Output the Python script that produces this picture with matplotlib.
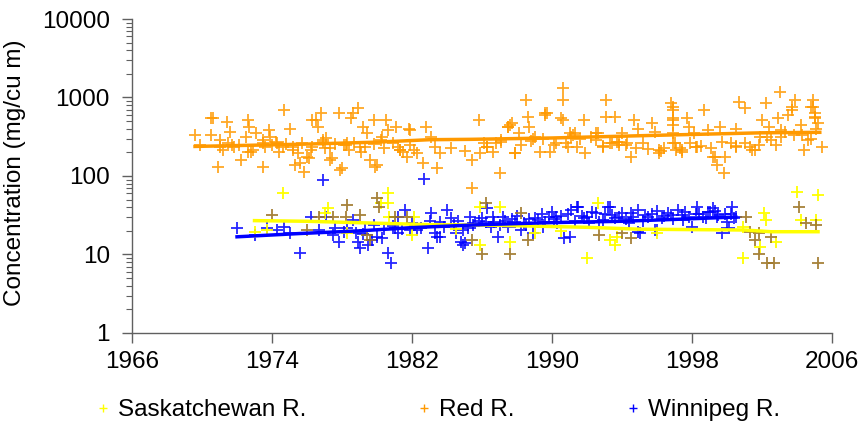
import matplotlib.pyplot as plt
import matplotlib.ticker as mticker
from matplotlib.lines import Line2D

plt.rcParams['font.family'] = ['Liberation Sans', 'DejaVu Sans']

# Red R. (orange) - year, concentration
red_x = [1969.6, 1970.5, 1971.4, 1970.9, 1970.5, 1971.0, 1971.8, 1972.2, 1972.6, 1972.7,
         1972.6, 1973.1, 1973.5, 1973.5, 1973.9, 1974.3, 1974.7, 1975.0, 1975.2, 1975.5,
         1975.6, 1975.8, 1976.0, 1976.2, 1976.5, 1976.6, 1976.8, 1976.9, 1977.0, 1977.3,
         1977.8, 1977.9, 1978.3, 1978.5, 1978.6, 1978.9, 1979.0, 1979.2, 1979.4, 1979.6,
         1979.8, 1979.9, 1980.2, 1980.5, 1980.6, 1981.1, 1981.3, 1981.8, 1982.1, 1982.3,
         1982.6, 1982.8, 1970.6, 1971.2, 1971.6, 1971.7, 1972.5, 1972.8, 1973.6, 1973.8,
         1974.2, 1974.6, 1975.3, 1976.1, 1976.3, 1977.1, 1977.4, 1978.0, 1978.1, 1978.4,
         1979.1, 1980.0, 1980.3, 1981.2, 1981.5, 1981.7, 1981.9,
         1969.9, 1971.0, 1971.5, 1972.1, 1972.9, 1973.5, 1974.0, 1974.4, 1974.8, 1975.2,
         1975.7, 1976.3, 1976.9, 1977.3, 1977.6, 1978.2, 1978.7, 1979.3, 1979.8, 1980.4,
         1980.9, 1981.3, 1981.9,
         1983.1, 1983.3, 1983.6, 1983.4, 1985.8, 1985.4, 1985.9, 1986.1, 1986.3, 1986.6,
         1987.0, 1987.1, 1987.5, 1987.6, 1987.9, 1988.1, 1988.2, 1988.5, 1988.6, 1988.7,
         1989.0, 1989.3, 1989.6, 1989.7, 1989.9, 1990.2, 1990.5, 1990.6, 1990.6, 1990.9,
         1991.0, 1991.2, 1991.4, 1991.8, 1991.9, 1992.2, 1992.5, 1992.6, 1993.1, 1993.1,
         1993.3, 1993.6, 1993.7, 1994.0, 1994.3, 1994.5, 1994.7, 1994.9, 1995.2, 1995.7,
         1995.9, 1996.1, 1996.4, 1996.8, 1996.9, 1996.9, 1996.9, 1996.9, 1997.1, 1997.4,
         1997.7, 1997.8, 1998.1, 1998.3, 1998.7, 1998.9, 1999.2, 1999.4, 1999.6, 1999.8,
         1999.9, 2000.2, 2000.5, 2000.7, 2001.0, 2001.3, 2001.6, 2001.9, 2002.0, 2002.2,
         2002.4, 2002.8, 2002.9, 2003.0, 2003.3, 2003.5, 2003.7, 2003.9, 2004.2, 2004.4,
         2004.8, 2004.9, 2005.0, 2005.0, 2005.1, 2005.4, 2004.6, 1985.4,
         1984.2, 1985.0, 1986.8, 1988.8, 1989.5, 1990.8, 1991.6, 1992.9, 1993.8, 1994.8,
         1995.5, 1996.2, 1997.3, 1997.9, 1998.5, 1999.1, 1999.7, 2000.5, 2001.0, 2001.8,
         2002.5, 2003.1, 2003.8, 2004.3, 2004.8,
         1987.5, 1987.7, 1989.6, 1990.6, 1991.3, 1991.1, 1992.5, 1993.4, 1993.8, 1994.2,
         1986.3, 1987.1, 1987.9, 1988.9, 1990.1, 1992.9,
         1996.9, 1996.9, 1996.9, 1997.0, 1996.1, 1997.4, 1998.2, 1999.3, 2000.5, 2001.4,
         2002.3, 2003.1, 2003.7, 2004.9, 2005.0, 2005.2]
red_y = [333, 545, 490, 130, 330, 290, 235, 160, 520, 420,
         200, 350, 130, 290, 310, 260, 690, 400, 215, 195,
         145, 112, 175, 215, 520, 420, 630, 290, 225, 160,
         630, 120, 260, 545, 630, 730, 235, 420, 350, 160,
         520, 130, 290, 520, 385, 420, 215, 400, 215, 195,
         145, 420, 545, 215, 360, 250, 315, 200, 235, 385,
         270, 235, 140, 170, 520, 305, 170, 125, 250, 215,
         200, 140, 315, 235, 200, 175, 385,
         250, 235, 265, 250, 215, 265, 250, 200, 255, 235,
         265, 235, 275, 225, 255, 250, 265, 235, 255, 225,
         265, 215, 250,
         310, 235, 195, 125, 520, 160, 195, 260, 235, 200,
         108, 290, 420, 445, 195, 350, 250, 930, 560, 420,
         310, 200, 600, 630, 200, 260, 545, 930, 1310, 235,
         350, 330, 235, 520, 195, 310, 290, 350, 930, 560,
         260, 560, 270, 350, 260, 175, 520, 400, 260, 470,
         360, 195, 225, 850, 690, 545, 445, 260, 215, 200,
         545, 420, 350, 235, 690, 385, 175, 140, 420, 108,
         175, 260, 400, 870, 730, 235, 215, 310, 520, 850,
         420, 250, 545, 1170, 360, 600, 760, 930, 445, 215,
         760, 930, 630, 545, 400, 235, 290, 70,
         230, 210, 260, 280, 300, 260, 300, 240, 250, 230,
         220, 210, 230, 260, 240, 230, 270, 240, 260, 250,
         290, 310, 330, 330, 300,
         420, 470, 630, 520, 350, 310, 350, 260, 270, 250,
         235, 270, 195, 300, 250, 235,
         760, 520, 350, 260, 215, 215, 235, 175, 235, 215,
         310, 385, 690, 760, 560, 470]

# Winnipeg R. (blue)
win_x = [1972.0, 1973.0, 1973.7, 1974.3, 1974.7, 1975.0, 1975.6, 1976.2, 1976.7, 1977.1,
         1977.5, 1977.8, 1978.1, 1978.3, 1978.6, 1978.9, 1979.0, 1979.3, 1979.5, 1979.7,
         1980.0, 1980.3, 1980.6, 1980.8, 1981.0, 1981.2, 1981.6, 1981.9, 1982.7, 1982.9,
         1976.9, 1982.3, 1983.1, 1983.3, 1983.6, 1983.8, 1984.0, 1984.2, 1984.5, 1984.9,
         1985.0, 1985.3, 1985.6, 1986.0, 1986.3, 1986.5, 1986.7, 1986.9, 1987.2, 1987.5,
         1987.9, 1988.2, 1988.5, 1988.9, 1989.2, 1989.5, 1989.8, 1990.0, 1990.3, 1990.7,
         1991.1, 1991.5, 1991.8, 1992.1, 1992.5, 1992.9, 1993.2, 1993.6, 1994.0, 1994.4,
         1994.6, 1994.9, 1995.0, 1995.5, 1995.9, 1996.3, 1996.6, 1997.2, 1997.5, 1998.0,
         1998.3, 1998.6, 1998.9, 1999.2, 1999.4, 1999.7, 2000.0, 2000.3, 2000.5, 2000.1,
         1983.4, 1984.9, 1984.8, 1991.0, 1991.4, 1993.3, 1994.9, 1996.0,
         1980.9, 1981.4, 1982.0, 1983.0, 1984.4, 1985.2, 1985.8, 1986.2, 1987.0, 1987.7,
         1988.4, 1989.0, 1989.6, 1990.1, 1990.5, 1991.3, 1992.0, 1992.7, 1993.4, 1994.2,
         1995.2, 1995.7, 1996.4, 1996.9, 1997.4, 1997.8, 1998.4, 1998.8, 1999.0, 1999.5,
         1999.9, 2000.4, 1977.6, 1978.8, 1979.8, 1980.4,
         1984.6, 1985.5, 1986.6, 1987.3, 1988.0, 1988.7, 1989.4, 1990.2, 1990.9, 1991.7,
         1992.3, 1993.0, 1993.8, 1994.5, 1995.3, 1996.0, 1996.8, 1997.6, 1998.2, 1999.3,
         2000.2, 1982.5, 1983.6, 1981.2, 1979.2]
win_y = [21.7, 17.7, 21.7, 20.5, 22.4, 18.8, 10.4, 30, 20.5, 30,
         17.7, 14.5, 19.4, 21.7, 27.5, 14.5, 12.1, 20.5, 13.2, 15.3,
         16.7, 16.2, 10.4, 7.8, 21.7, 30, 36.8, 20.5, 92, 12.1,
         90, 20.5, 33.6, 18.8, 16.7, 22.4, 36.8, 29, 18.8, 20.5,
         14, 30, 25, 29, 39, 22.4, 26, 16.7, 30, 22.4,
         26, 20.5, 23.7, 18.8, 27.5, 22.4, 30, 34.7, 25, 16.2,
         36.8, 40, 29, 25, 33.6, 27.5, 40, 29, 33.6, 25,
         30, 36.8, 18.8, 30, 20.5, 29, 33.6, 36.8, 27.5, 22.4,
         40, 30, 34.7, 39, 30, 18.8, 26, 40, 30, 21.7,
         16.7, 13.2, 14.5, 16.7, 40, 40, 19.4, 20.5,
         23, 21, 25, 27, 24, 22, 27, 26, 24, 28,
         25, 29, 26, 28, 31, 27, 30, 26, 32, 28,
         27, 33, 31, 28, 32, 30, 33, 29, 35, 32,
         33, 29, 22, 19, 24, 21,
         27, 24, 30, 27, 31, 28, 33, 30, 33, 31,
         35, 33, 30, 34, 32, 36, 32, 35, 33, 36,
         33, 22, 26, 19, 18]

# Saskatchewan R. (yellow)
sask_x = [1974.6, 1973.0, 1973.7, 1977.2, 1977.0, 1980.6, 1980.2, 1980.6, 1980.7, 1982.1,
          1982.0, 1978.3, 1985.9, 1987.0, 1985.9, 1987.6, 1992.6, 1993.3, 1993.6, 1993.7,
          1992.0, 2002.1, 2002.2, 2001.9, 2000.9, 2002.8, 2004.0, 2004.2, 2005.2, 2005.1,
          2000.9, 1984.5, 1989.0, 1990.5, 1996.0]
sask_y = [60, 19.4, 20.5, 39, 33.6, 60, 45, 45, 30, 30,
          17.7, 18.8, 40, 40, 13.2, 14.5, 45, 15.3, 13.2, 16.7,
          9, 33.6, 27.5, 12.4, 9, 14.5, 62, 27.5, 57, 27.5,
          22.4, 21, 19, 20, 19]

# second (darker) set of Saskatchewan R. samples
sask2_x = [1974.0, 1976.0, 1976.7, 1977.5, 1978.3, 1978.2, 1979.0, 1980.0, 1980.1, 1981.0,
           1981.7, 1979.4, 1979.6, 1986.2, 1988.2, 1985.4, 1986.0, 1987.6, 1988.6, 1992.7,
           1994.5, 1994.0, 2001.1, 2001.8, 2001.6, 2001.8, 2002.3, 2002.7, 2002.5, 2004.1,
           2004.5, 2005.1, 2005.2, 2001.3]
sask2_y = [32, 20.5, 30, 30, 42.7, 30, 32, 52, 40, 30,
           30, 17.7, 15.3, 45, 33.6, 15.3, 10, 10, 15.3, 17.7,
           16.2, 18.8, 30, 18.8, 15.3, 10, 7.8, 7.8, 16.7, 40,
           25, 23.7, 7.8, 19.4]

# trend lines
red_trend_x = [1969.6, 1976, 1980, 1983, 1985.3, 1990, 1996, 2002, 2005.3]
red_trend_y = [238, 255, 270, 290, 293, 305, 330, 355, 360]
win_trend_x = [1972, 1975.6, 1979, 1982, 1986, 1990, 1994, 1997, 2000.5]
win_trend_y = [16.8, 18.5, 20, 22, 24, 25.5, 26.5, 28, 30]
sask_trend_x = [1973, 1976, 1983, 1987, 1992, 1995, 2001, 2002.5, 2005.2]
sask_trend_y = [27, 26.5, 24, 23.5, 22.2, 21, 20.5, 19.5, 19.5]

orange = '#FF9900'
yellow = '#FFFF00'
blue = '#0000FF'
brown = '#9C7424'
fs = 17.5

fig = plt.figure(figsize=(8.64, 4.28), dpi=100)
ax = fig.add_axes([0.1528, 0.222, 0.8102, 0.7336])

mk = dict(marker='+', ls='none', ms=9, mew=1.3)
ax.plot(red_x, red_y, color=orange, alpha=0.85, **mk)
ax.plot(win_x, win_y, color=blue, alpha=0.85, **mk)
ax.plot(sask_x, sask_y, color=yellow, **mk)
ax.plot(sask2_x, sask2_y, color=brown, alpha=0.9, **mk)

ax.plot(red_trend_x, red_trend_y, color=orange, lw=2.5)
ax.plot(sask_trend_x, sask_trend_y, color=yellow, lw=2.5)
ax.plot(win_trend_x, win_trend_y, color=blue, lw=2.5)

ax.set_yscale('log')
ax.set_ylim(1, 10000)
ax.set_xlim(1966, 2006)
ax.set_xticks([1966, 1974, 1982, 1990, 1998, 2006])
ax.yaxis.set_major_formatter(mticker.FuncFormatter(lambda v, p: f'{v:.0f}'))
ax.yaxis.set_minor_formatter(mticker.NullFormatter())

for s in ['top', 'right']:
    ax.spines[s].set_visible(False)
for s in ['left', 'bottom']:
    ax.spines[s].set_color('#606060')
    ax.spines[s].set_linewidth(1)

ax.tick_params(axis='x', direction='out', length=7, width=1, color='#606060',
               labelsize=fs, pad=6)
ax.tick_params(axis='y', which='major', direction='out', length=7, width=1,
               color='#606060', labelsize=fs, pad=9)
ax.tick_params(axis='y', which='minor', direction='out', length=4, width=0.8,
               color='#606060')

ax.set_ylabel('Concentration (mg/cu m)', fontsize=fs)
ax.yaxis.set_label_coords(-0.152, 0.51)

handles = [Line2D([], [], color=yellow, marker='+', ls='none', ms=6, mew=1),
           Line2D([], [], color=orange, marker='+', ls='none', ms=6, mew=1),
           Line2D([], [], color=blue, marker='+', ls='none', ms=6, mew=1)]
fig.legend(handles, ['Saskatchewan R.', 'Red R.', 'Winnipeg R.'],
           loc='center left', bbox_to_anchor=(0.105, 1 - 410 / 428), ncol=3,
           frameon=False, fontsize=fs, handlelength=1.0, handletextpad=0.12,
           columnspacing=4.35, borderpad=0, borderaxespad=0)

fig.savefig('out.png', dpi=100)
